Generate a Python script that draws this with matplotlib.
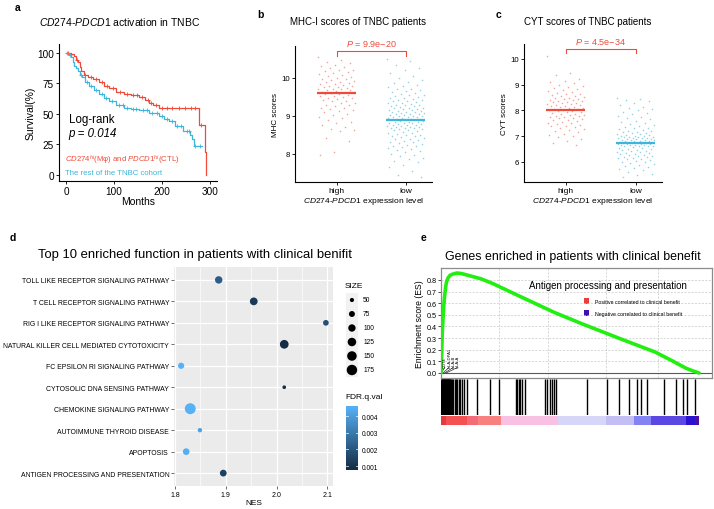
import numpy as np
import matplotlib
matplotlib.use("Agg")
import matplotlib.pyplot as plt
from matplotlib.colors import LinearSegmentedColormap, Normalize
from matplotlib.colorbar import ColorbarBase

plt.rcParams['font.family'] = ['Liberation Sans', 'DejaVu Sans']
plt.rcParams['mathtext.fontset'] = 'custom'
plt.rcParams['mathtext.rm'] = 'Liberation Sans'
plt.rcParams['mathtext.it'] = 'Liberation Sans:italic'
plt.rcParams['axes.unicode_minus'] = True

# ---------------- data ----------------
# a: Kaplan-Meier curves (months, survival %)
red_t = [0, 10, 17, 20, 24, 28, 31, 38, 45, 55, 69, 80, 90, 105, 121, 135, 152, 165, 172, 182, 193, 278, 290, 293]
red_s = [100, 99, 97, 94, 92, 88, 85, 82, 80, 78, 76, 73, 71, 68, 66, 65, 64, 61, 59, 57, 55, 40.5, 19, 0]
cyan_t = [0, 5, 10, 14, 17, 20, 24, 28, 34, 40, 48, 58, 69, 80, 90, 105, 121, 135, 152, 172, 193, 205, 214, 228, 245, 259, 262, 266, 283]
cyan_s = [100, 98, 96, 92, 89, 87, 85, 82, 80, 76, 73, 69, 66, 63, 60.5, 57, 55, 54, 53, 51, 48, 46, 44, 40, 36, 33, 29, 23.5, 23.5]
red_cens = [4, 22, 40, 52, 63, 75, 85, 98, 112, 127, 140, 147, 158, 170, 178, 187, 200, 210, 222, 235, 248, 260, 270, 282]
cyan_cens = [2, 8, 30, 44, 52, 62, 74, 84, 95, 110, 118, 128, 140, 146, 160, 168, 180, 190, 200, 210, 220, 232, 240, 252, 256, 270, 280]

# b: MHC-I scores
groups = ['high', 'low']
mhc_high = [10.55, 10.48, 10.42, 10.38, 10.35, 10.31, 10.28, 10.25, 10.22, 10.2, 10.18, 10.15, 10.12, 10.1,
            10.08, 10.05, 10.03, 10.0, 9.98, 9.96, 9.94, 9.92, 9.9, 9.88, 9.86, 9.85, 9.83, 9.81, 9.8, 9.78,
            9.77, 9.75, 9.74, 9.72, 9.71, 9.7, 9.68, 9.67, 9.65, 9.64, 9.62, 9.61, 9.6, 9.58, 9.57, 9.55,
            9.53, 9.52, 9.5, 9.48, 9.46, 9.44, 9.42, 9.4, 9.38, 9.35, 9.33, 9.3, 9.28, 9.25, 9.22, 9.2, 9.18,
            9.15, 9.12, 9.1, 9.06, 9.02, 8.98, 8.95, 8.9, 8.85, 8.8, 8.75, 8.7, 8.65, 8.62, 8.6, 8.42, 8.35,
            8.05, 7.97]
mhc_low = [10.5, 10.45, 10.35, 10.25, 10.2, 10.12, 10.05, 10.0, 9.95, 9.9, 9.86, 9.82, 9.78, 9.75, 9.72,
           9.7, 9.67, 9.65, 9.62, 9.6, 9.58, 9.56, 9.54, 9.52, 9.5, 9.48, 9.46, 9.45, 9.43, 9.42, 9.4, 9.38,
           9.37, 9.35, 9.34, 9.32, 9.3, 9.29, 9.28, 9.26, 9.25, 9.24, 9.22, 9.21, 9.2, 9.18, 9.17, 9.16, 9.15,
           9.14, 9.12, 9.11, 9.1, 9.09, 9.08, 9.07, 9.06, 9.05, 9.04, 9.03, 9.02, 9.01, 9.0, 8.99, 8.98, 8.97,
           8.96, 8.95, 8.94, 8.93, 8.92, 8.91, 8.9, 8.89, 8.88, 8.87, 8.86, 8.85, 8.84, 8.83, 8.82, 8.81, 8.8,
           8.79, 8.78, 8.77, 8.76, 8.75, 8.74, 8.73, 8.72, 8.71, 8.7, 8.69, 8.68, 8.67, 8.66, 8.65, 8.64, 8.62,
           8.6, 8.58, 8.56, 8.55, 8.53, 8.51, 8.5, 8.48, 8.46, 8.44, 8.42, 8.4, 8.38, 8.36, 8.34, 8.32, 8.3,
           8.28, 8.26, 8.24, 8.22, 8.2, 8.18, 8.15, 8.12, 8.1, 8.07, 8.04, 8.0, 7.97, 7.94, 7.9, 7.86, 7.82,
           7.78, 7.72, 7.65, 7.55, 7.45, 7.38]
mhc_means = [9.6, 8.9]
mhc_p = '9.9e\u221220'

# c: CYT scores
cyt_high = [10.13, 9.45, 9.38, 9.22, 9.15, 9.1, 9.05, 9.0, 8.95, 8.9, 8.86, 8.82, 8.78, 8.75, 8.72, 8.68,
            8.65, 8.62, 8.6, 8.57, 8.55, 8.52, 8.5, 8.48, 8.46, 8.44, 8.42, 8.4, 8.38, 8.36, 8.34, 8.32, 8.3,
            8.28, 8.26, 8.24, 8.22, 8.2, 8.18, 8.16, 8.14, 8.12, 8.1, 8.08, 8.06, 8.04, 8.02, 8.0, 7.98, 7.96,
            7.94, 7.92, 7.9, 7.88, 7.86, 7.84, 7.82, 7.8, 7.78, 7.76, 7.74, 7.72, 7.7, 7.67, 7.64, 7.61, 7.58,
            7.55, 7.52, 7.5, 7.47, 7.44, 7.41, 7.38, 7.35, 7.32, 7.28, 7.25, 7.2, 7.15, 7.1, 7.05, 7.0, 6.95,
            6.88, 6.8, 6.72, 6.65]
cyt_low = [8.5, 8.45, 8.42, 8.35, 8.3, 8.2, 8.15, 8.1, 8.05, 8.0, 7.95, 7.9, 7.85, 7.8, 7.75, 7.7, 7.65,
           7.6, 7.55, 7.5, 7.46, 7.42, 7.38, 7.35, 7.32, 7.3, 7.27, 7.25, 7.22, 7.2, 7.18, 7.16, 7.14, 7.12,
           7.1, 7.08, 7.06, 7.04, 7.02, 7.0, 6.99, 6.98, 6.97, 6.96, 6.95, 6.94, 6.93, 6.92, 6.91, 6.9, 6.89,
           6.88, 6.87, 6.86, 6.85, 6.84, 6.83, 6.82, 6.81, 6.8, 6.79, 6.78, 6.77, 6.76, 6.75, 6.74, 6.73, 6.72,
           6.71, 6.7, 6.69, 6.68, 6.67, 6.66, 6.65, 6.64, 6.63, 6.62, 6.61, 6.6, 6.58, 6.56, 6.54, 6.52, 6.5,
           6.48, 6.46, 6.44, 6.42, 6.4, 6.38, 6.36, 6.34, 6.32, 6.3, 6.28, 6.26, 6.24, 6.22, 6.2, 6.18, 6.16,
           6.14, 6.12, 6.1, 6.07, 6.04, 6.01, 5.98, 5.95, 5.92, 5.88, 5.84, 5.8, 5.76, 5.72, 5.68, 5.62, 5.55,
           5.48, 5.42]
cyt_means = [8.0, 6.75]
cyt_p = '4.5e\u221234'

# d: enrichment dot plot
d_terms = ['TOLL LIKE RECEPTOR SIGNALING PATHWAY', 'T CELL RECEPTOR SIGNALING PATHWAY',
           'RIG I LIKE RECEPTOR SIGNALING PATHWAY', 'NATURAL KILLER CELL MEDIATED CYTOTOXICITY',
           'FC EPSILON RI SIGNALING PATHWAY', 'CYTOSOLIC DNA SENSING PATHWAY',
           'CHEMOKINE SIGNALING PATHWAY', 'AUTOIMMUNE THYROID DISEASE', 'APOPTOSIS',
           'ANTIGEN PROCESSING AND PRESENTATION']
d_nes = [1.886, 1.955, 2.097, 2.015, 1.812, 2.015, 1.830, 1.849, 1.822, 1.895]
d_size = [102, 108, 71, 130, 79, 45, 189, 53, 87, 89]
d_fdr = [0.0022, 0.0012, 0.0018, 0.0008, 0.0046, 0.0009, 0.0046, 0.0042, 0.0045, 0.0014]
size_breaks = [50, 75, 100, 125, 150, 175]
fdr_breaks = [0.001, 0.002, 0.003, 0.004]

# e: GSEA running score (rank out of n_genes, ES)
n_genes = 20000
es_rank = [0, 40, 100, 180, 260, 360, 440, 560, 700, 900, 1240, 1600, 2100, 2600, 3100, 4000, 6000,
           8800, 11000, 14000, 16600, 18000, 19000, 19600, 20000]
es_val = [0.0, 0.12, 0.35, 0.52, 0.64, 0.74, 0.79, 0.82, 0.84, 0.85, 0.86, 0.855, 0.84, 0.825, 0.81,
          0.77, 0.665, 0.52, 0.42, 0.29, 0.18, 0.10, 0.04, 0.015, 0.0]
hit_ranks = [0, 40, 80, 120, 160, 200, 240, 280, 320, 360, 400, 440, 480, 520, 560, 600, 640, 680, 720,
             780, 860, 940, 1080, 1160, 1240, 1400, 1480, 1620, 1780, 2020, 2800, 3800, 4500, 5820, 5900,
             6040, 6120, 6280, 6520, 8060, 8220, 8440, 8600, 8760, 8920, 11320, 12860, 13800, 14580,
             15200, 15500, 15960, 17280, 18220, 18760, 19060, 19680]
lead_genes = ['CD74', 'HLA-DPA1', 'HLA-B', 'HLA-A']
lead_ranks = [40, 160, 280, 400]
band_edges = [0, 360, 2000, 2840, 4620, 9040, 12800, 14960, 16280, 18960, 19680, 20000]
band_colors = ['#E53A3E', '#F45252', '#F46A78', '#F8807F', '#F8C0E2', '#D6D6F8', '#C3BEF3',
               '#8383F3', '#5B47E2', '#2C10D0', '#4A10A6']

# ---------------- layout helpers ----------------
W, H = 714, 510
fig = plt.figure(figsize=(W / 100, H / 100), dpi=100)


def box(x0, y0, x1, y1):
    return [x0 / W, 1 - y1 / H, (x1 - x0) / W, (y1 - y0) / H]


def ftext(x, y, s, **kw):
    kw.setdefault('ha', 'center')
    kw.setdefault('va', 'center')
    return fig.text(x / W, 1 - y / H, s, **kw)


RED = '#EE4B3B'
CYAN = '#3FB5DC'
PT_RED = '#F3867A'
PT_CYAN = '#6FC3E0'


def panel_label(x, y, s):
    ftext(x, y, s, fontsize=7.5, fontweight='bold', ha='left')


def classic(ax, fs):
    for sp in ['top', 'right']:
        ax.spines[sp].set_visible(False)
    for sp in ['left', 'bottom']:
        ax.spines[sp].set_linewidth(0.8)
    ax.tick_params(length=2, width=0.6, labelsize=fs, pad=1.5)


# ---------------- a ----------------
ax = fig.add_axes(box(59, 45, 217, 182))
classic(ax, 7.2)
ax.step(red_t, red_s, where='post', color=RED, lw=0.9)
ax.step(cyan_t, cyan_s, where='post', color=CYAN, lw=0.9)
for ts, ss, cens, col in [(red_t, red_s, red_cens, RED), (cyan_t, cyan_s, cyan_cens, CYAN)]:
    idx = np.searchsorted(ts, cens, side='right') - 1
    ax.plot(cens, np.array(ss)[idx], '+', color=col, ms=2.5, mew=0.6, ls='none')
ax.set_xlim(-15, 315)
ax.set_ylim(-5, 107)
ax.set_xticks([0, 100, 200, 300])
ax.set_yticks([0, 25, 50, 75, 100])
ax.set_xlabel('Months', fontsize=7.5, labelpad=0)
ax.set_ylabel('Survival(%)', fontsize=7.5, labelpad=1)
ftext(120, 22, r'$\mathit{CD274}$-$\mathit{PDCD1}$ activation in TNBC', fontsize=7.5)
ax.text(5, 41, 'Log-rank', fontsize=8.3, ha='left', va='bottom')
ax.text(5, 39, 'p = 0.014', fontsize=8.3, style='italic', ha='left', va='top')
ax.text(-3, 12.5, r'$\mathit{CD274}^{\mathit{hi}}$(M' + '\u03c6' + r') and $\mathit{PDCD1}^{\mathit{hi}}$(CTL)',
        color=RED, fontsize=5.6, ha='left', va='center')
ax.text(-3, 2, 'The rest of the TNBC cohort', color=CYAN, fontsize=5.6, ha='left', va='center')
panel_label(15, 8, 'a')


# ---------------- b / c ----------------
def jitter(n):
    return ((np.arange(n) * 0.6180339887) % 1 - 0.5) * 0.54


def score_panel(rect, high, low, means, pval, ylim, yticks, ylabel, br_y, br_tip, p_y):
    ax = fig.add_axes(rect)
    classic(ax, 5.6)
    ax.scatter(1 + jitter(len(high)), high, s=1.3, color=PT_RED, alpha=0.75, lw=0)
    ax.scatter(2 + jitter(len(low)), low, s=1.3, color=PT_CYAN, alpha=0.75, lw=0)
    ax.hlines(means[0], 0.72, 1.28, color=RED, lw=1.6)
    ax.hlines(means[1], 1.72, 2.28, color=CYAN, lw=1.6)
    ax.plot([1, 1, 2, 2], [br_tip, br_y, br_y, br_tip], color=RED, lw=0.8, clip_on=False)
    ax.text(1.5, p_y, r'$\mathit{P}$ = ' + pval, color=RED, fontsize=6.5, ha='center', va='bottom',
            clip_on=False)
    ax.set_xlim(0.4, 2.38)
    ax.set_ylim(*ylim)
    ax.set_yticks(yticks)
    ax.set_xticks([1, 2])
    ax.set_xticklabels(groups, fontsize=6)
    ax.set_ylabel(ylabel, fontsize=5.8, labelpad=2)
    ax.set_xlabel(r'$\mathit{CD274}$-$\mathit{PDCD1}$ expression level', fontsize=6, labelpad=1)
    return ax


score_panel(box(295, 47, 432, 183), mhc_high, mhc_low, mhc_means, mhc_p, (7.26, 10.84), [8, 9, 10],
            'MHC scores', 10.71, 10.58, 10.8)
ftext(358, 22, 'MHC-I scores of TNBC patients', fontsize=7)
panel_label(257, 15, 'b')
score_panel(box(524, 45, 662, 183), cyt_high, cyt_low, cyt_means, cyt_p, (5.22, 10.58), [6, 7, 8, 9, 10],
            'CYT scores', 10.39, 10.23, 10.5)
ftext(588, 22, 'CYT scores of TNBC patients', fontsize=7)
panel_label(496, 15, 'c')

# ---------------- d ----------------
GG_LOW, GG_HIGH = '#132B43', '#56B1F7'
cmap = LinearSegmentedColormap.from_list('gg', [GG_LOW, GG_HIGH])
norm = Normalize(vmin=0.00076, vmax=0.0046)


def area(sz):
    return np.maximum(0.381 * np.asarray(sz, dtype=float) - 10.1, 1)


ax = fig.add_axes(box(174, 268, 333, 487))
ax.set_facecolor('#EBEBEB')
for sp in ax.spines.values():
    sp.set_visible(False)
ypos = np.arange(len(d_terms))[::-1] + 1
ax.set_xlim(1.798, 2.111)
ax.set_ylim(0.4, len(d_terms) + 0.6)
ax.set_xticks([1.8, 1.9, 2.0, 2.1])
ax.set_xticks([1.85, 1.95, 2.05], minor=True)
ax.set_yticks(ypos)
ax.set_yticklabels(d_terms)
ax.grid(True, which='major', color='white', lw=0.9)
ax.grid(True, which='minor', axis='x', color='white', lw=0.45)
ax.set_axisbelow(True)
ax.tick_params(which='major', length=2, width=0.5, color='#333333', labelsize=5, pad=1.5)
ax.tick_params(axis='y', labelsize=4.95)
ax.tick_params(which='minor', length=0)
ax.scatter(d_nes, ypos, s=area(d_size), c=cmap(norm(d_fdr)), lw=0, zorder=3)
ax.set_xlabel('NES', fontsize=6, labelpad=1)
ftext(195, 255, 'Top 10 enriched function in patients with clinical benifit', fontsize=9.4)
panel_label(10, 238, 'd')

# size legend
lx = fig.add_axes(box(345, 294, 378, 378))
lx.set_xlim(0, 1)
lx.set_ylim(len(size_breaks) - 0.5, -0.5)
lx.axis('off')
lx.add_patch(plt.Rectangle((0.02, -0.5), 0.38, len(size_breaks), color='#F2F2F2', lw=0))
lx.scatter([0.21] * len(size_breaks), range(len(size_breaks)), s=area(size_breaks), color='black', lw=0)
for i, b in enumerate(size_breaks):
    lx.text(0.55, i, str(b), fontsize=4.8, va='center', ha='left')
ftext(345, 286, 'SIZE', fontsize=6, ha='left')

# FDR colorbar
ftext(345, 398, 'FDR.q.val', fontsize=6, ha='left')
cx = fig.add_axes(box(346, 407, 358, 471))
cb = ColorbarBase(cx, cmap=cmap, norm=norm, orientation='vertical')
cb.outline.set_visible(False)
cb.set_ticks(fdr_breaks)
cb.set_ticklabels([f'{v:.3f}' for v in fdr_breaks])
cx.tick_params(length=0, labelsize=4.8, pad=3)
for v in fdr_breaks:
    cx.plot([0, 0.2], [v, v], color='white', lw=0.5, transform=cx.get_yaxis_transform())
    cx.plot([0.8, 1.0], [v, v], color='white', lw=0.5, transform=cx.get_yaxis_transform())

# ---------------- e ----------------
xmax = n_genes * 1.05
ax = fig.add_axes(box(441, 269, 712, 379))
ax.set_xlim(0, xmax)
ax.set_ylim(-0.043, 0.903)
for sp in ax.spines.values():
    sp.set_color('#8C8C8C')
    sp.set_linewidth(0.9)
ax.set_yticks(np.arange(0, 0.81, 0.1))
ax.set_yticklabels([f'{v:.1f}' for v in np.arange(0, 0.81, 0.1)])
ax.set_xticks([4500, 8300, 12800, 16800])
ax.tick_params(axis='x', length=0, labelbottom=False)
ax.tick_params(axis='y', length=2, width=0.5, labelsize=5.2, pad=1)
ax.grid(True, color='#C8C8C8', lw=0.5, ls=(0, (3, 2)))
ax.axhline(0, color='#5A5A5A', lw=0.8)
ax.plot(es_rank, es_val, color='#22EE11', lw=2.6, solid_capstyle='round', zorder=3)
ax.set_ylabel('Enrichment score (ES)', fontsize=6.2, labelpad=2)
for i, (g, r) in enumerate(zip(lead_genes, lead_ranks)):
    lxp = 300 + i * 340
    ax.text(lxp, 0.055, g, rotation=90, fontsize=3.0, ha='center', va='bottom')
    ax.plot([lxp, r], [0.05, 0.0], color='black', lw=0.4)
ax.text(0.616, 0.845, 'Antigen processing and presentation', transform=ax.transAxes, fontsize=7,
        ha='center', va='center')
ax.add_patch(plt.Rectangle((0.527, 0.675), 0.018, 0.05, transform=ax.transAxes, color='#EE3B3B', lw=0))
ax.add_patch(plt.Rectangle((0.527, 0.565), 0.018, 0.05, transform=ax.transAxes, color='#4010B0', lw=0))
ax.text(0.567, 0.70, 'Positive correlated to clinical benefit', transform=ax.transAxes, fontsize=3.8,
        ha='left', va='center')
ax.text(0.567, 0.59, 'Negative correlated to clinical benefit', transform=ax.transAxes, fontsize=3.8,
        ha='left', va='center')
ftext(573, 257, 'Genes enriched in patients with clinical benefit', fontsize=8.9)
panel_label(421, 238, 'e')

hx = fig.add_axes(box(441, 380, 712, 416))
hx.set_xlim(0, xmax)
hx.set_ylim(0, 1)
hx.axis('off')
hx.vlines(hit_ranks, 0, 1, color='black', lw=1.0)

bx = fig.add_axes(box(441, 417, 712, 426))
bx.set_xlim(0, xmax)
bx.set_ylim(0, 1)
bx.axis('off')
for x0, x1, c in zip(band_edges[:-1], band_edges[1:], band_colors):
    bx.axvspan(x0, x1, color=c, lw=0)

fig.savefig('out.png', dpi=100)
